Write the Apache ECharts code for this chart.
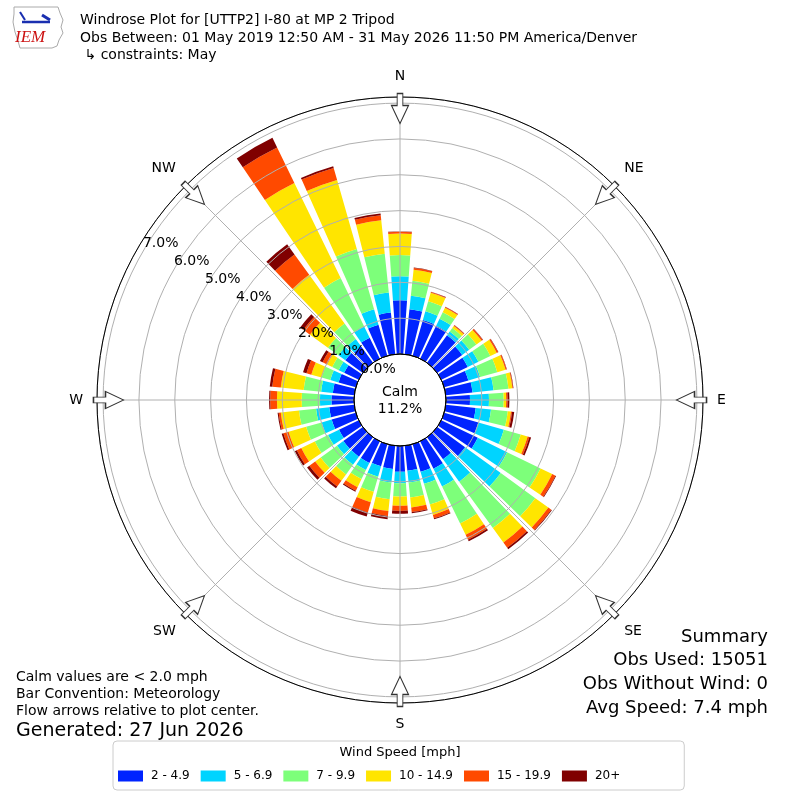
<!DOCTYPE html>
<html>
<head>
<meta charset="utf-8">
<script src="https://cdn.jsdelivr.net/npm/echarts@6.0.0/dist/echarts.min.js"></script>
<style>html,body{margin:0;padding:0;background:#fff;}#chart{width:800px;height:800px;}</style>
</head>
<body>
<div id="chart"></div>
<script>
// ---- data ----
const directions = [0,10,20,30,40,50,60,70,80,90,100,110,120,130,140,150,160,170,180,190,200,210,220,230,240,250,260,270,280,290,300,310,320,330,340,350];
const speedBins = ['2 - 4.9','5 - 6.9','7 - 9.9','10 - 14.9','15 - 19.9','20+'];
const binColors = ['#0024ff','#00d4ff','#7dff7a','#ffe500','#ff4a00','#800000'];
const spd2to5 = [1.50,1.26,1.04,1.02,0.95,0.86,0.82,0.70,0.75,0.67,0.84,0.99,1.13,0.96,0.76,0.85,0.80,0.70,0.72,0.65,0.64,0.67,0.67,0.67,0.61,0.70,0.70,0.63,0.60,0.50,0.45,0.60,0.56,0.65,0.90,1.17];
const spd5to7 = [0.67,0.38,0.25,0.22,0.13,0.24,0.33,0.34,0.59,0.53,0.43,0.74,0.91,1.23,0.77,0.55,0.35,0.33,0.32,0.38,0.30,0.22,0.28,0.22,0.34,0.29,0.37,0.32,0.33,0.24,0.17,0.24,0.26,0.35,0.45,0.56];
const spd7to10 = [0.59,0.42,0.29,0.20,0.12,0.25,0.37,0.50,0.42,0.41,0.47,0.49,1.04,1.19,1.60,1.15,0.60,0.42,0.37,0.47,0.44,0.28,0.33,0.56,0.41,0.45,0.48,0.51,0.49,0.25,0.20,0.36,0.53,1.50,1.75,1.09];
const spd10to15 = [0.60,0.31,0.25,0.14,0.07,0.18,0.20,0.24,0.11,0.07,0.09,0.20,0.36,0.45,0.50,0.35,0.30,0.28,0.26,0.33,0.30,0.25,0.22,0.19,0.42,0.51,0.51,0.69,0.64,0.30,0.16,0.62,1.68,2.95,2.00,0.94];
const spd15to20 = [0.05,0.05,0.02,0.02,0.02,0.04,0.04,0.03,0.02,0.04,0.03,0.05,0.10,0.10,0.18,0.15,0.10,0.13,0.14,0.14,0.30,0.11,0.20,0.20,0.14,0.15,0.06,0.19,0.24,0.14,0.14,0.23,0.70,1.10,0.35,0.14];
const spd20plus = [0.01,0.01,0.01,0.01,0.01,0.01,0.01,0.01,0.01,0.05,0.06,0.05,0.02,0.02,0.05,0.05,0.03,0.03,0.08,0.09,0.12,0.03,0.06,0.08,0.06,0.05,0.03,0.03,0.07,0.10,0.08,0.11,0.35,0.30,0.05,0.05];
const seriesValues = [spd2to5, spd5to7, spd7to10, spd10to15, spd15to20, spd20plus];
const compassLabels = {0:'N',45:'NE',90:'E',135:'SE',180:'S',225:'SW',270:'W',315:'NW'};
const arrowDirs = [0,45,90,135,180,225,270,315];
const radialTicks = [0,1,2,3,4,5,6,7];
const radialMax = 7.17;
const arrowRadius = 6.85;
const calmPct = 11.2;
const titleLines = ['Windrose Plot for [UTTP2] I-80 at MP 2 Tripod',
  'Obs Between: 01 May 2019 12:50 AM - 31 May 2026 11:50 PM America/Denver',
  ' \u21b3 constraints: May'];
const noteLines = ['Calm values are < 2.0 mph','Bar Convention: Meteorology','Flow arrows relative to plot center.'];
const generatedText = 'Generated: 27 Jun 2026';
const summaryLines = ['Summary','Obs Used: 15051','Obs Without Wind: 0','Avg Speed: 7.4 mph'];
const legendTitle = 'Wind Speed [mph]';

// ---- chart ----
const F = '"DejaVu Sans", sans-serif';
const chart = echarts.init(document.getElementById('chart'), null, {renderer:'canvas'});
const hiddenAxisParts = {axisLine:{show:false}, axisTick:{show:false}, axisLabel:{show:false}, splitLine:{show:false}, splitArea:{show:false}};

const barSeries = speedBins.map((name, i) => ({
  name: name, type: 'bar', coordinateSystem: 'polar', polarIndex: 0,
  stack: 'rose', data: seriesValues[i], barCategoryGap: '19%',
  itemStyle: {color: binColors[i]}, silent: true, z: 2
}));

const option = {
  animation: false,
  backgroundColor: '#fff',
  color: binColors,
  title: [
    {text: titleLines.join('\n'), left: 80, top: 12, padding: 0,
     textStyle: {fontSize: 14, fontWeight: 'normal', color: '#000', fontFamily: F, lineHeight: 17.5}},
    {text: 'Calm\n' + calmPct.toFixed(1) + '%', left: 400, top: 384, padding: 0, textAlign: 'center',
     textStyle: {fontSize: 14, fontWeight: 'normal', color: '#000', fontFamily: F, lineHeight: 17, align: 'center'}, z: 20},
    {text: noteLines.join('\n'), left: 16, top: 669, padding: 0,
     textStyle: {fontSize: 14, fontWeight: 'normal', color: '#000', fontFamily: F, lineHeight: 17}},
    {text: generatedText, left: 16, top: 720, padding: 0,
     textStyle: {fontSize: 19, fontWeight: 'normal', color: '#000', fontFamily: F, lineHeight: 22}},
    {text: summaryLines.join('\n'), left: 768, top: 625, padding: 0, textAlign: 'right',
     textStyle: {fontSize: 18, fontWeight: 'normal', color: '#000', fontFamily: F, lineHeight: 23.7, align: 'right'}},
    {text: legendTitle, left: 400, top: 746, padding: 0, z: 10, textAlign: 'center',
     textStyle: {fontSize: 13, fontWeight: 'normal', color: '#000', fontFamily: F}}
  ],
  legend: {
    data: speedBins, left: 113, top: 741, orient: 'horizontal',
    icon: 'rect', itemWidth: 25, itemHeight: 11, itemGap: 11,
    padding: [29, 64, 8, 5], borderColor: '#cccccc', borderWidth: 1, borderRadius: 4,
    backgroundColor: '#fff', selectedMode: false,
    textStyle: {fontSize: 12, color: '#000', fontFamily: F, padding: [0,0,0,3]}
  },
  polar: [
    {center: ['50%','50%'], radius: [46, 303]},
    {center: ['50%','50%'], radius: [46, 303]},
    {center: ['50%','50%'], radius: [0, 46]},
    {center: ['50%','50%'], radius: [50, 307]}
  ],
  angleAxis: [
    Object.assign({polarIndex: 0, type: 'category', data: directions.map(String), startAngle: 95, clockwise: true}, hiddenAxisParts),
    {polarIndex: 1, type: 'value', min: 0, max: 360, interval: 45, startAngle: 90, clockwise: true, z: 10,
     axisLine: {show: true, lineStyle: {color: '#000', width: 1}},
     axisTick: {show: false},
     axisLabel: {show: true, margin: 14, color: '#000', fontSize: 14, fontFamily: F,
       formatter: v => (compassLabels[v] !== undefined && v < 360) ? compassLabels[v] : ''},
     splitLine: {show: true, lineStyle: {color: '#b0b0b0', width: 1}}},
    Object.assign({polarIndex: 2, type: 'value', min: 0, max: 360, startAngle: 90, z: 12}, hiddenAxisParts,
      {axisLine: {show: true, lineStyle: {color: '#000', width: 1}}}),
    Object.assign({polarIndex: 3, type: 'value', min: 0, max: 360, startAngle: 150, clockwise: true}, hiddenAxisParts)
  ],
  radiusAxis: [
    Object.assign({polarIndex: 0, type: 'value', min: 0, max: radialMax}, hiddenAxisParts),
    Object.assign({polarIndex: 1, type: 'value', min: 0, max: radialMax, interval: 1, z: 10}, hiddenAxisParts,
      {splitLine: {show: true, lineStyle: {color: '#b0b0b0', width: 1}}}),
    Object.assign({polarIndex: 2, type: 'value', min: 0, max: 1}, hiddenAxisParts),
    Object.assign({polarIndex: 3, type: 'value', min: 0, max: radialMax, interval: 1, z: 12}, hiddenAxisParts,
      {axisLabel: {show: true, margin: -7, align: 'left', verticalAlign: 'middle', color: '#000', fontSize: 14, fontFamily: F, showMaxLabel: false,
        formatter: v => radialTicks.indexOf(Math.round(v*100)/100) >= 0 ? v.toFixed(1) + '%' : ''}})
  ],
  series: barSeries.concat([{
    name: 'flow', type: 'scatter', coordinateSystem: 'polar', polarIndex: 1, silent: true, z: 20,
    symbol: 'path://M6,0 L12,0 L12,12 L18,12 L9,30 L0,12 L6,12 Z',
    symbolSize: [17, 30],
    itemStyle: {color: '#ffffff', borderColor: '#333333', borderWidth: 1.2, opacity: 1},
    data: arrowDirs.map(b => ({value: [arrowRadius, b], symbolRotate: -b}))
  }]),
  graphic: [
    {type: 'polygon', z: 5, shape: {points: [[14,7],[58,7],[60,13],[63,20],[61,27],[63,33],[59,40],[57,46],[52,48],[20,48],[18,41],[15,32],[13,22],[14,14]]},
     style: {stroke: '#aaaaaa', fill: 'none', lineWidth: 1}},
    {type: 'line', z: 6, shape: {x1: 22, y1: 22, x2: 50, y2: 22}, style: {stroke: '#1a2fb0', lineWidth: 2.5}},
    {type: 'line', z: 6, shape: {x1: 20, y1: 12, x2: 25, y2: 20}, style: {stroke: '#1a2fb0', lineWidth: 2}},
    {type: 'line', z: 6, shape: {x1: 42, y1: 15, x2: 50, y2: 20}, style: {stroke: '#1a2fb0', lineWidth: 3}},
    {type: 'text', z: 6, left: 15, top: 29, style: {text: 'IEM', font: 'italic 17px "Liberation Serif", serif', fill: '#cc1111'}}
  ]
};
chart.setOption(option);
</script>
</body>
</html>
